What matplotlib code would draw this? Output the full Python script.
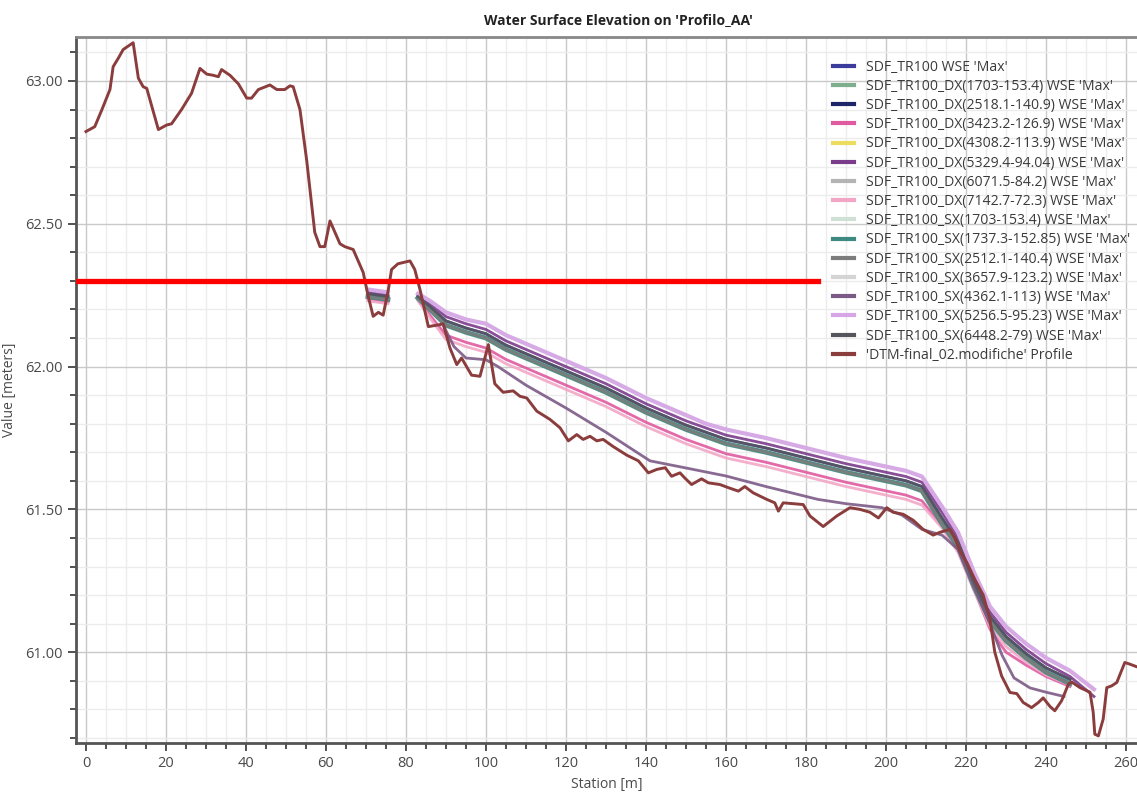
import numpy as np
import matplotlib
matplotlib.use('Agg')
import matplotlib.pyplot as plt
from matplotlib.ticker import MultipleLocator, FormatStrFormatter

nan = np.nan

# terrain profile (DTM)
dtm_x = [0, 2.2, 4, 6, 6.8, 8.1, 9.3, 11.8, 13.1, 14.3, 15.2, 18.1, 20.2, 21.4, 23.9, 26.4, 28.5,
         30.2, 31.8, 33.1, 33.9, 36, 38.1, 40.2, 41.4, 43.1, 46, 47.7, 49.7, 51, 51.8, 53.5, 55.2,
         57.2, 58.5, 59.7, 61, 63.5, 64.7, 66.8, 69.3, 70.5, 71.8, 73.1, 74.3, 75.6, 76.4, 78, 81,
         82.2, 83.5, 85.6, 88.5, 89.3, 91, 92.7, 93.9, 96.4, 98.5, 100.6, 102.2, 104.3, 106.8,
         108.5, 110.2, 112.7, 116, 118.5, 120.6, 122.7, 124.3, 126, 127.7, 129.3, 131.8, 135.2,
         138.1, 140.6, 142.7, 144.8, 146.4, 148.5, 149.7, 151.4, 153.9, 155.6, 158.5, 160.6,
         163.1, 164.7, 166.8, 170.2, 172.2, 173.1, 174.3, 176.8, 179.3, 181, 184.3, 187.7, 191,
         193.5, 196, 198.1, 200.2, 201.8, 204.3, 206.8, 209.3, 211.8, 213.5, 216, 217.2, 218.5,
         220.2, 222.2, 224.3, 226, 227.2, 228.9, 231, 232.7, 234.3, 236.4, 238.1, 239.3, 241,
         242.2, 243.9, 245.6, 246.4, 248.5, 251, 251.8, 252.2, 253.1, 254.3, 255.2, 256.4, 257.7,
         259.7, 261, 262.5]
dtm_y = [62.823, 62.84, 62.90, 62.97, 63.05, 63.08, 63.11, 63.134, 63.01, 62.98, 62.974, 62.83,
         62.846, 62.85, 62.90, 62.957, 63.044, 63.024, 63.02, 63.015, 63.04, 63.02, 62.99, 62.94,
         62.94, 62.97, 62.986, 62.97, 62.97, 62.983, 62.98, 62.90, 62.72, 62.47, 62.42, 62.42,
         62.51, 62.43, 62.42, 62.41, 62.33, 62.25, 62.176, 62.19, 62.18, 62.27, 62.34, 62.36,
         62.37, 62.34, 62.27, 62.14, 62.147, 62.15, 62.065, 62.007, 62.03, 61.97, 61.966, 62.077,
         61.94, 61.91, 61.915, 61.896, 61.89, 61.844, 61.815, 61.786, 61.74, 61.762, 61.745,
         61.756, 61.74, 61.745, 61.72, 61.69, 61.67, 61.628, 61.64, 61.646, 61.616, 61.628,
         61.61, 61.587, 61.607, 61.593, 61.587, 61.576, 61.564, 61.58, 61.558, 61.535, 61.523,
         61.494, 61.523, 61.52, 61.517, 61.477, 61.44, 61.477, 61.506, 61.50, 61.49, 61.47,
         61.506, 61.49, 61.483, 61.462, 61.43, 61.41, 61.42, 61.43, 61.40, 61.354, 61.314,
         61.255, 61.20, 61.115, 61.0, 60.917, 60.859, 60.855, 60.824, 60.806, 60.824, 60.84,
         60.81, 60.795, 60.83, 60.888, 60.896, 60.876, 60.86, 60.79, 60.713, 60.707, 60.766,
         60.876, 60.882, 60.894, 60.964, 60.958, 60.95]

# water surface stations (gap at 79 between the pit and the main reach)
wse_x = [70.5, 73, 75.5, 79, 83, 86, 90, 95, 100, 105, 110, 115, 120, 125, 130, 135, 140, 145,
         150, 155, 160, 170, 180, 190, 200, 205, 209, 214, 218, 222, 226, 230, 235, 240, 246, 252]

wse_top = [62.27, 62.265, 62.26, nan, 62.255, 62.23, 62.19, 62.165, 62.15, 62.11, 62.08, 62.05,
           62.02, 61.99, 61.96, 61.925, 61.89, 61.86, 61.83, 61.80, 61.78, 61.75, 61.715, 61.68,
           61.65, 61.635, 61.615, 61.51, 61.42, 61.28, 61.16, 61.09, 61.03, 60.98, 60.935, 60.87]
wse_purple = [62.26, 62.255, 62.25, nan, 62.25, 62.22, 62.175, 62.15, 62.13, 62.09, 62.06, 62.03,
              62.00, 61.97, 61.94, 61.905, 61.87, 61.84, 61.81, 61.785, 61.76, 61.73, 61.695,
              61.66, 61.63, 61.615, 61.595, 61.49, 61.40, 61.26, 61.14, 61.07, 61.01, 60.96,
              60.915, 60.845]
wse_blue = [62.255, 62.25, 62.245, nan, 62.245, 62.21, 62.16, 62.135, 62.115, 62.075, 62.045,
            62.015, 61.985, 61.955, 61.925, 61.89, 61.855, 61.825, 61.795, 61.77, 61.745, 61.715,
            61.68, 61.645, 61.615, 61.60, 61.58, 61.47, 61.385, 61.245, 61.125, 61.055, 60.995,
            60.945, 60.905, nan]
wse_teal = [62.245, 62.24, 62.235, nan, 62.24, 62.20, 62.145, 62.12, 62.10, 62.06, 62.03, 62.00,
            61.97, 61.94, 61.91, 61.875, 61.84, 61.81, 61.78, 61.755, 61.73, 61.70, 61.665, 61.63,
            61.60, 61.585, 61.565, 61.45, 61.37, 61.23, 61.11, 61.04, 60.98, 60.93, 60.89, nan]
wse_pink = [62.235, 62.23, 62.225, nan, 62.235, 62.18, 62.11, 62.085, 62.065, 62.025, 61.995,
            61.965, 61.935, 61.905, 61.875, 61.84, 61.805, 61.775, 61.745, 61.72, 61.695, 61.665,
            61.63, 61.595, 61.565, 61.55, 61.53, 61.44, 61.36, 61.22, 61.08, 61.00, 60.955,
            60.915, 60.88, nan]
wse_lightpink = [62.23, 62.225, 62.22, nan, 62.23, 62.17, 62.095, 62.07, 62.05, 62.01, 61.98,
                 61.95, 61.92, 61.89, 61.86, 61.825, 61.79, 61.76, 61.73, 61.705, 61.68, 61.65,
                 61.615, 61.58, 61.55, 61.535, 61.515, 61.435, 61.35, 61.215, 61.09, 61.02,
                 60.965, 60.92, 60.885, nan]

low_x = [89.5, 92, 95, 100, 103, 110, 120, 130, 141, 150, 160, 170, 183, 190, 199, 204, 209, 214,
         218, 222, 226, 229, 232, 236, 240, 244.5]
low_y = [62.14, 62.07, 62.03, 62.024, 62.0, 61.935, 61.855, 61.77, 61.67, 61.645, 61.617, 61.58,
         61.535, 61.52, 61.506, 61.48, 61.43, 61.41, 61.36, 61.23, 61.10, 60.99, 60.91, 60.875,
         60.86, 60.845]

labels = ["SDF_TR100 WSE 'Max'",
          "SDF_TR100_DX(1703-153.4) WSE 'Max'",
          "SDF_TR100_DX(2518.1-140.9) WSE 'Max'",
          "SDF_TR100_DX(3423.2-126.9) WSE 'Max'",
          "SDF_TR100_DX(4308.2-113.9) WSE 'Max'",
          "SDF_TR100_DX(5329.4-94.04) WSE 'Max'",
          "SDF_TR100_DX(6071.5-84.2) WSE 'Max'",
          "SDF_TR100_DX(7142.7-72.3) WSE 'Max'",
          "SDF_TR100_SX(1703-153.4) WSE 'Max'",
          "SDF_TR100_SX(1737.3-152.85) WSE 'Max'",
          "SDF_TR100_SX(2512.1-140.4) WSE 'Max'",
          "SDF_TR100_SX(3657.9-123.2) WSE 'Max'",
          "SDF_TR100_SX(4362.1-113) WSE 'Max'",
          "SDF_TR100_SX(5256.5-95.23) WSE 'Max'",
          "SDF_TR100_SX(6448.2-79) WSE 'Max'"]
series_y = [wse_blue, wse_teal, wse_teal, wse_pink, wse_teal, wse_purple, wse_top,
            wse_lightpink, wse_top, wse_teal, wse_teal, wse_top, low_y, wse_top, wse_blue]
dtm_label = "'DTM-final_02.modifiche' Profile"

red_level = 62.30
red_end = 183.0

colors = ['#3c3c9c', '#7fae8f', '#1c2566', '#e05aa0', '#ecdc60', '#7b3c8c', '#b4b4b4',
          '#f2a6c6', '#cfe0d6', '#3f8a80', '#7c7c7c', '#d4d4d4', '#7b5a86', '#d7a6e6', '#55555e']
widths = [2, 2, 2, 2, 2, 2, 2, 2, 2, 3.5, 2, 2, 2, 3, 2]

plt.rcParams['font.family'] = ['Open Sans', 'DejaVu Sans']

fig = plt.figure(figsize=(11.37, 7.94), dpi=100)
ax = fig.add_axes([0.0668, 0.0642, 0.9332, 0.8892])

for i, lab in enumerate(labels):
    xs = low_x if series_y[i] is low_y else wse_x
    ax.plot(xs, series_y[i], color=colors[i], lw=widths[i], label=lab, alpha=0.9,
            solid_joinstyle='round')
ax.plot(dtm_x, dtm_y, color='#8b3c3c', lw=2.1, label=dtm_label, zorder=3)

ax.plot([-2.5, red_end], [red_level, red_level], color='#ff0000', lw=3.8, zorder=5)

ax.set_xlim(-2.5, 262.75)
ax.set_ylim(60.682, 63.154)
ax.xaxis.set_major_locator(MultipleLocator(20))
ax.xaxis.set_minor_locator(MultipleLocator(5))
ax.yaxis.set_major_locator(MultipleLocator(0.5))
ax.yaxis.set_minor_locator(MultipleLocator(0.1))
ax.yaxis.set_major_formatter(FormatStrFormatter('%.2f'))
ax.grid(True, which='major', color='#c9c9c9', lw=1)
ax.grid(True, which='minor', color='#ececec', lw=1)
ax.set_axisbelow(True)
ax.tick_params(which='major', direction='out', length=6, width=1.2, color='#333333',
               labelsize=10.5, labelcolor='#4a4a4a')
ax.tick_params(which='minor', direction='out', length=4, width=1.2, color='#333333')
for s in ['left', 'bottom']:
    ax.spines[s].set_color('#555555')
    ax.spines[s].set_linewidth(2)
ax.spines['top'].set_color('#888888')
ax.spines['top'].set_linewidth(2)
ax.spines['right'].set_visible(False)

ax.set_xlabel('Station [m]', fontsize=10, color='#4a4a4a', labelpad=4)
ax.set_ylabel('Value [meters]', fontsize=10, color='#4a4a4a', labelpad=6)
fig.text(0.544, 0.975, "Water Surface Elevation on 'Profilo_AA'", ha='center', va='center',
         fontsize=10, fontweight='bold', color='#222222')

leg = ax.legend(loc='upper left', bbox_to_anchor=(0.728, 0.932), bbox_transform=fig.transFigure,
                frameon=False, fontsize=10.1, handlelength=1.5, handletextpad=0.8,
                labelspacing=0.3, borderaxespad=0)
for t in leg.get_texts():
    t.set_color('#3a3a3a')
for h in leg.get_lines():
    h.set_linewidth(3)
    h.set_alpha(1)

fig.savefig('out.png', dpi=100)
